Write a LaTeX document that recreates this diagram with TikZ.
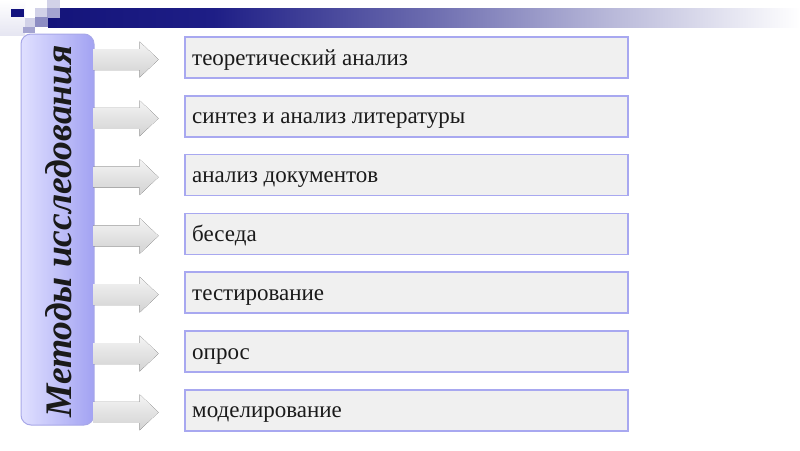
\documentclass[tikz,border=0pt]{standalone}
\usepackage{fontspec}
\setmainfont{Liberation Serif}
\usetikzlibrary{calc}
\definecolor{navy}{HTML}{14147A}
\definecolor{navyb}{HTML}{1E1E86}
\definecolor{barmid}{HTML}{6A6AAE}
\definecolor{barlav}{HTML}{B6B6D8}
\definecolor{sqnavy}{HTML}{12127E}
\definecolor{sqlight}{HTML}{D2D2E8}
\definecolor{sqmid}{HTML}{A4A4D0}
\definecolor{sqpale}{HTML}{E6E6F2}
\definecolor{lboxL}{HTML}{E0E0FF}
\definecolor{lboxR}{HTML}{A2A2F2}
\definecolor{lboxline}{HTML}{A8A8E8}
\definecolor{boxfill}{HTML}{F0F0F0}
\definecolor{boxline}{HTML}{A8A8F0}
\definecolor{txt}{HTML}{1A1A1A}
\definecolor{arrT}{HTML}{F4F4F4}
\definecolor{arrB}{HTML}{D2D2D2}
\pgfdeclarehorizontalshading{banner}{100bp}{color(0bp)=(navy); color(25bp)=(navy); color(36bp)=(navyb); color(50bp)=(barmid); color(62bp)=(barlav); color(75bp)=(white); color(100bp)=(white)}
\tikzset{
  itembox/.style={draw=boxline, line width=1.5pt, fill=boxfill, minimum width=443pt, minimum height=41pt, inner sep=0pt, outer sep=0pt},
  itemtext/.style={anchor=base west, text=txt, font=\fontsize{23}{23}\selectfont, inner sep=0pt},
  leftbox/.style={draw=lboxline, line width=1pt, rounded corners=10pt, left color=lboxL, right color=lboxR, minimum width=73pt, minimum height=391pt, inner sep=0pt},
  blockarrow/.style={top color=arrT, bottom color=arrB, draw=none},
}
\begin{document}
\begin{tikzpicture}[x=1pt,y=-1pt]
\useasboundingbox (0,0) rectangle (800,450);
\fill[white] (0,0) rectangle (800,450);
% banner
\shade[shading=banner] (48,8) rectangle (800,27);
% decorative squares
\shade[top color=white, bottom color=sqpale] (0,0) rectangle (25,35);
\fill[sqnavy] (11,9) rectangle (24,17);
\fill[sqlight] (35,8) rectangle (47,17);
\fill[sqlight] (47,0) rectangle (60,8);
\fill[sqmid] (47,8) rectangle (60,18);
\fill[sqlight] (25,18) rectangle (35,28);
\fill[sqmid!85!navy] (35,17) rectangle (48,27);
\fill[sqmid] (23,27) rectangle (35,33);
% left box
\node[leftbox] (m) at (57.5,229.5) {};
\node[rotate=90, text=txt, font=\bfseries\itshape\fontsize{37.5}{37.5}\selectfont] (mt) at ([xshift=1pt,yshift=-2pt]m.center) {Методы исследования};
% item boxes
\foreach \i/\t in {1/теоретический анализ, 2/синтез и анализ литературы, 3/анализ документов, 4/беседа, 5/тестирование, 6/опрос, 7/моделирование}{
  \node[itembox] (b\i) at (406.5,{57.5+58.8*(\i-1)}) {};
  \node[itemtext] (t\i) at ($(b\i.west)+(7,7.5)$) {\t};
  \coordinate (s\i) at ($(m.east |- b\i.west)+(-1,2)$);
  \fill[blockarrow]
    ($(s\i)+(0,-10.5)$) -- ($(s\i)+(46,-10.5)$) --
    ($(s\i)+(46,-18)$) -- ($(s\i)+(65,0)$) --
    ($(s\i)+(46,18)$) -- ($(s\i)+(46,10.5)$) --
    ($(s\i)+(0,10.5)$) -- cycle;
}
\end{tikzpicture}
\end{document}
